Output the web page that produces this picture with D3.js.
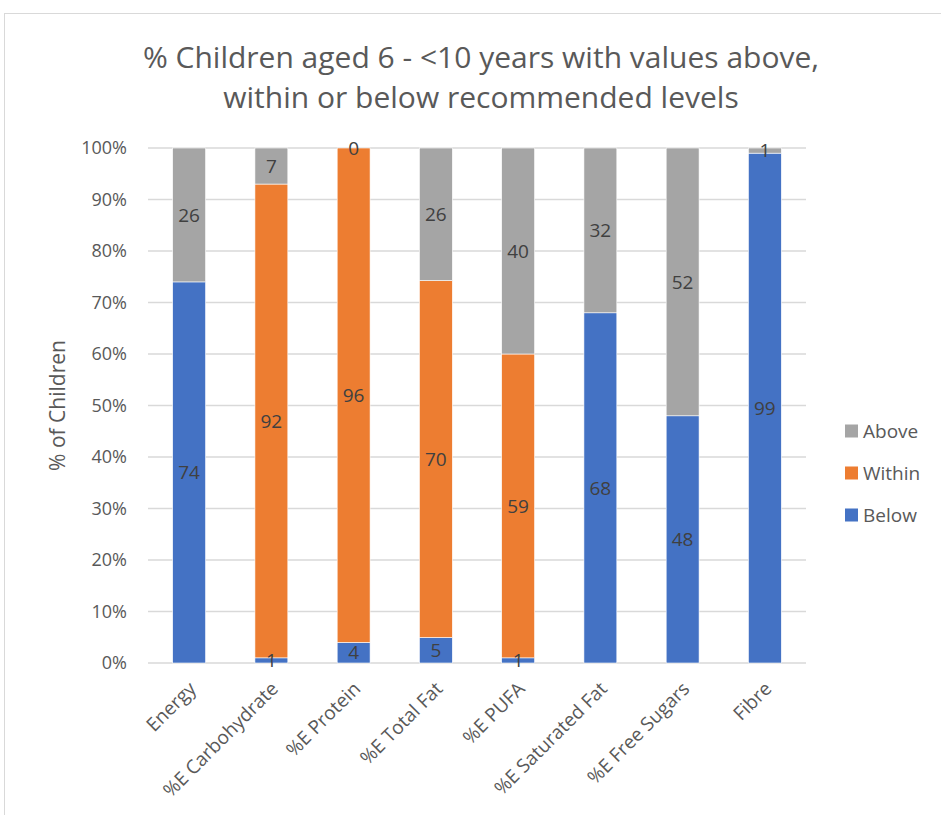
<!DOCTYPE html>
<meta charset="utf-8">
<script src="https://d3js.org/d3.v7.min.js"></script>
<style>
  body { margin: 0; background: #fff; }
  text { font-family: "Open Sans", sans-serif; }
</style>
<div id="my_dataviz"></div>
<script>

  // data
  var categories = ["Energy", "%E Carbohydrate", "%E Protein", "%E Total Fat", "%E PUFA",
                    "%E Saturated Fat", "%E Free Sugars", "Fibre"];
  var below  = [74, 1, 4, 5, 1, 68, 48, 99];
  var within = [0, 92, 96, 70, 59, 0, 0, 0];
  var above  = [26, 7, 0, 26, 40, 32, 52, 1];
  var seriesNames = ["Below", "Within", "Above"];
  var seriesColors = ["#4472C4", "#ED7D31", "#A5A5A5"];
  var yTicks = [0, 0.1, 0.2, 0.3, 0.4, 0.5, 0.6, 0.7, 0.8, 0.9, 1];
  // which series show a label even when 0
  var showZero = {"%E Protein": ["Above"]};

  var W = 941, H = 815;
  var margin = {top: 148, left: 148, right: 135, bottom: 152};
  var width = W - margin.left - margin.right,
      height = H - margin.top - margin.bottom;

  var svg0 = d3.select("#my_dataviz").append("svg")
      .attr("width", W).attr("height", H);

  // chart frame
  svg0.append("rect")
    .attr("x", 4.5).attr("y", 13.5)
    .attr("width", 1000).attr("height", 1000)
    .attr("fill", "none").attr("stroke", "#D9D9D9");

  // title
  var title = svg0.append("text")
    .attr("x", 481).attr("y", 68)
    .attr("text-anchor", "middle")
    .style("font-size", "30px")
    .style("fill", "#595959");
  title.append("tspan").attr("x", 481).attr("dy", 0).text("% Children aged 6 - <10 years with values above,");
  title.append("tspan").attr("x", 481).attr("dy", 40).text("within or below recommended levels");

  var svg = svg0.append("g")
    .attr("transform", "translate(" + margin.left + "," + margin.top + ")");

  var table = categories.map(function(c, i) {
    var t = below[i] + within[i] + above[i];
    return {cat: c, Below: below[i] / t, Within: within[i] / t, Above: above[i] / t,
            raw: {Below: below[i], Within: within[i], Above: above[i]}};
  });

  var x = d3.scaleBand().domain(categories).range([0, width]);
  var y = d3.scaleLinear().domain([0, 1]).range([height, 0]);
  var color = d3.scaleOrdinal().domain(seriesNames).range(seriesColors);

  // gridlines
  svg.selectAll(".grid")
    .data(yTicks)
    .enter().append("line")
      .attr("x1", 0).attr("x2", width)
      .attr("y1", function(d) { return y(d) }).attr("y2", function(d) { return y(d) })
      .attr("stroke", "#D9D9D9").attr("stroke-width", 1.3);

  // y axis
  var yAxis = svg.append("g")
    .call(d3.axisLeft(y).tickValues(yTicks).tickFormat(d3.format(".0%")).tickSize(0).tickPadding(21));
  yAxis.select(".domain").remove();
  yAxis.selectAll("text")
    .style("font-size", "18px").style("fill", "#595959")
    .style("font-family", "\"Open Sans\", sans-serif");

  // stacks
  var stacked = d3.stack().keys(seriesNames)(table);
  var barW = x.bandwidth() * 0.4;

  var layers = svg.selectAll(".layer")
    .data(stacked)
    .enter().append("g")
      .attr("fill", function(d) { return color(d.key) });

  layers.selectAll("rect")
    .data(function(d) { return d; })
    .enter().append("rect")
      .attr("x", function(d) { return x(d.data.cat) + (x.bandwidth() - barW) / 2 })
      .attr("y", function(d) { return y(d[1]) })
      .attr("width", barW)
      .attr("height", function(d) { return y(d[0]) - y(d[1]) })
      .attr("stroke", "#fff").attr("stroke-width", 0.6);

  // data labels
  stacked.forEach(function(s) {
    s.forEach(function(d) {
      var v = d.data.raw[s.key];
      var keep = showZero[d.data.cat] && showZero[d.data.cat].indexOf(s.key) >= 0;
      if (v === 0 && !keep) return;
      svg.append("text")
        .attr("x", x(d.data.cat) + x.bandwidth() / 2)
        .attr("y", (y(d[0]) + y(d[1])) / 2)
        .attr("dy", "0.35em")
        .attr("text-anchor", "middle")
        .style("font-size", "19px")
        .style("fill", "#404040")
        .text(v);
    });
  });

  // x axis labels
  var xAxis = svg.append("g")
    .attr("transform", "translate(0," + height + ")")
    .call(d3.axisBottom(x).tickSize(0).tickPadding(0));
  xAxis.select(".domain").remove();
  xAxis.selectAll("text")
    .attr("text-anchor", "end")
    .attr("dy", 0)
    .attr("transform", "translate(8,27) rotate(-45)")
    .style("font-size", "19px").style("fill", "#595959")
    .style("font-family", "\"Open Sans\", sans-serif");

  // y axis title
  svg.append("text")
    .attr("transform", "translate(" + (-83) + "," + (height / 2) + ") rotate(-90)")
    .attr("text-anchor", "middle")
    .style("font-size", "21px")
    .style("fill", "#595959")
    .text("% of Children");

  // legend
  var legend = svg0.append("g").attr("transform", "translate(845,431)");
  var legendOrder = ["Above", "Within", "Below"];
  legendOrder.forEach(function(k, i) {
    legend.append("rect")
      .attr("x", 0).attr("y", i * 42 - 6.5)
      .attr("width", 13).attr("height", 13)
      .attr("fill", color(k));
    legend.append("text")
      .attr("x", 18).attr("y", i * 42)
      .attr("dy", "0.35em")
      .style("font-size", "19px")
      .style("fill", "#595959")
      .text(k);
  });

</script>
